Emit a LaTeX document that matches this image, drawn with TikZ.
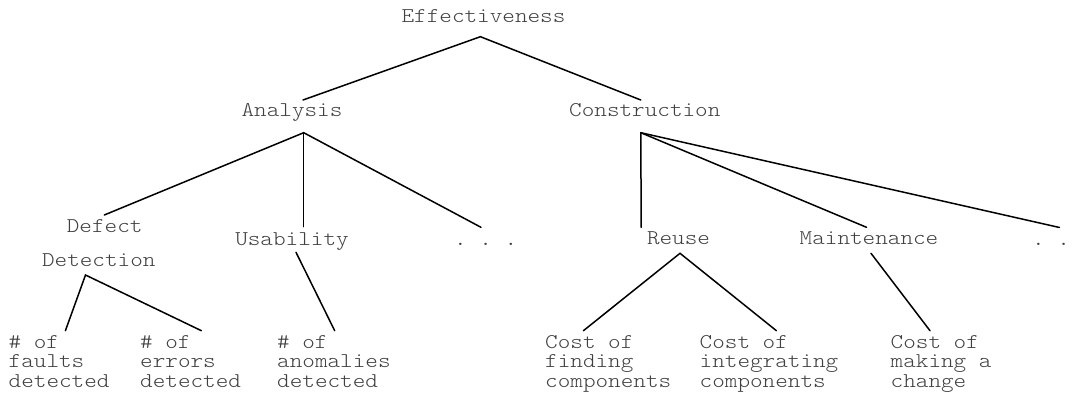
\documentclass[tikz,border=0pt]{standalone}
\usepackage{fontspec}
\setmonofont{Latin Modern Mono Light}[FakeStretch=1.143]
\definecolor{labelink}{gray}{0.25}
\newcommand\diagfont{\ttfamily\fontsize{21}{19.7}\selectfont}
\newcommand\lines[1]{\begin{tabular}[t]{@{}l@{}}#1\end{tabular}}
\tikzset{
  lbl/.style={inner sep=0pt, text=labelink, font=\diagfont, anchor=base},
  leaf/.style={lbl, anchor=base west},
  link/.style={line width=1.5pt, line cap=round, black}
}
\begin{document}
\begin{tikzpicture}[x=1pt,y=-1pt]
\useasboundingbox[fill=white] (0,0) rectangle (1085,397);

% ---- labels ----
\node[lbl] (eff)   at (483.5,22.7)  {Effectiveness};
\node[lbl] (ana)   at (292,116.7)   {Analysis};
\node[lbl] (con)   at (644.8,116.7) {Construction};
\node[lbl] (dfct)  at (104.7,232.3) {Defect};
\node[lbl] (dtct)  at (98.8,266.5)  {Detection};
\node[lbl] (usa)   at (292,245.7)   {Usability};
\node[lbl] (adots) at (485.7,245)   {.\ .\ .};
\node[lbl] (reu)   at (678.5,244.5) {Reuse};
\node[lbl] (mnt)   at (869,244.5)   {Maintenance};
\node[lbl] (cdots) at (1051,245)    {.\ .};

\node[leaf] (faults)  at (8.5,348)   {\lines{\#{} of\\faults\\detected}};
\node[leaf] (errors)  at (140,348)   {\lines{\#{} of\\errors\\detected}};
\node[leaf] (anom)    at (277,348)   {\lines{\#{} of\\anomalies\\detected}};
\node[leaf] (find)    at (545,348)   {\lines{Cost of\\finding\\components}};
\node[leaf] (integ)   at (699.5,348) {\lines{Cost of\\integrating\\components}};
\node[leaf] (change)  at (890.5,348) {\lines{Cost of\\making a\\change}};

% ---- connection points ----
\coordinate (eff-s)    at (480.4,36.7);
\coordinate (ana-n)    at (303,100);
\coordinate (con-n)    at (640.8,100);
\coordinate (ana-s)    at (303.7,132.7);
\coordinate (con-s)    at (640.8,132.7);
\coordinate (dfct-n)   at (104.3,215);
\coordinate (usa-n)    at (303.7,226.7);
\coordinate (adots-n)  at (481,227.3);
\coordinate (dtct-s)   at (85.5,275);
\coordinate (usa-s)    at (296,252.3);
\coordinate (reu-n)    at (641.2,227.3);
\coordinate (mnt-n)    at (866.5,227.3);
\coordinate (cdots-n)  at (1059.5,227.5);
\coordinate (reu-s)    at (680,253.3);
\coordinate (mnt-s)    at (871,253.3);
\coordinate (faults-n) at (65.4,330.7);
\coordinate (errors-n) at (201.4,330.7);
\coordinate (anom-n)   at (334.7,330.7);
\coordinate (find-n)   at (583.4,330.7);
\coordinate (integ-n)  at (776.4,330.7);
\coordinate (change-n) at (930,330.7);

% ---- tree edges ----
\draw[link] (ana-n) -- (eff-s) -- (con-n);
\draw[link] (dfct-n) -- (ana-s) -- (adots-n);
\draw[link] (ana-s) -- (usa-n);
\draw[link] (faults-n) -- (dtct-s) -- (errors-n);
\draw[link] (usa-s) -- (anom-n);
\draw[link] (con-s) -- (reu-n);
\draw[link] (con-s) -- (mnt-n);
\draw[link] (con-s) -- (cdots-n);
\draw[link] (find-n) -- (reu-s) -- (integ-n);
\draw[link] (mnt-s) -- (change-n);
\end{tikzpicture}
\end{document}
